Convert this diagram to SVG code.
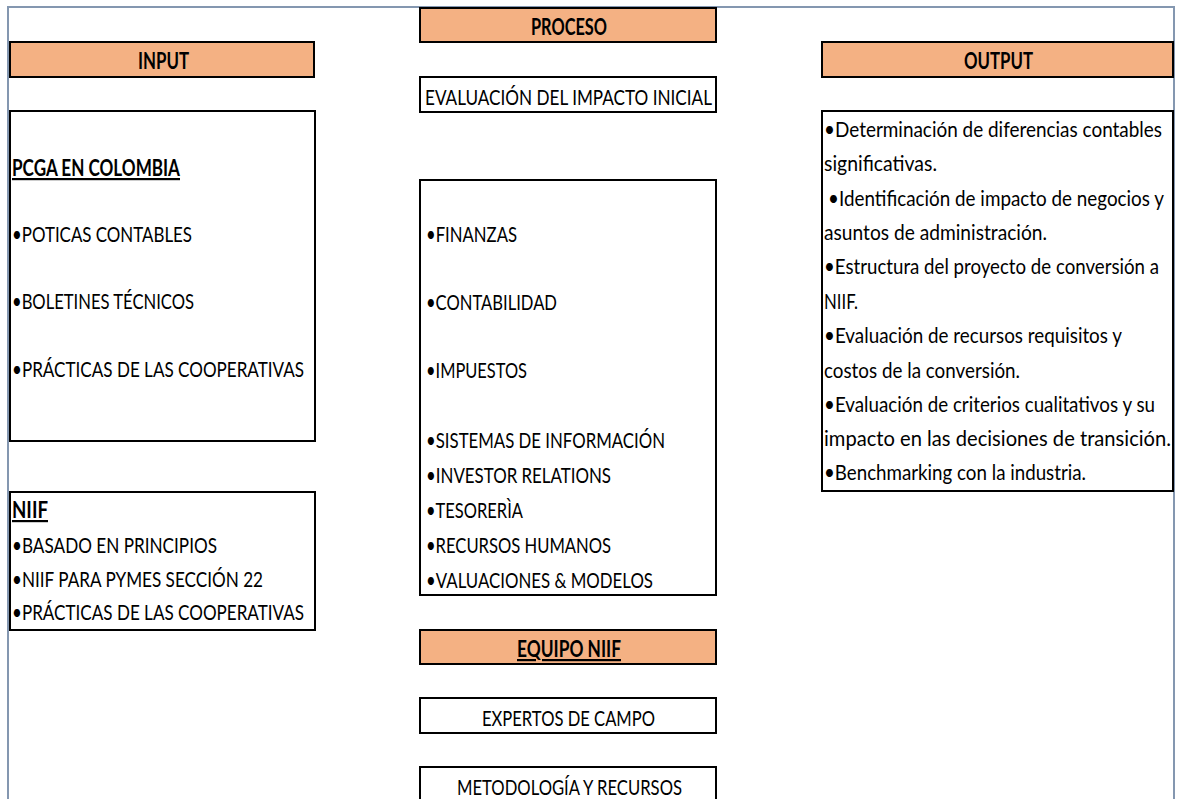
<svg xmlns="http://www.w3.org/2000/svg" width="1179" height="799" viewBox="0 0 1179 799">
<style>
.frame{fill:none;stroke:#8497B0;stroke-width:2}
.bar{fill:#F4B183;stroke:#000;stroke-width:2}
.box{fill:#fff;stroke:#000;stroke-width:2}
.t{font-family:"Lato","Liberation Sans",sans-serif;font-size:20.5px;fill:#000}
.h{font-family:"Lato","Liberation Sans",sans-serif;font-size:22px;font-weight:bold;fill:#000}
.u{text-decoration:underline}
</style>
<rect width="1179" height="799" fill="#fff"/>
<rect class="frame" x="8" y="7" width="1166" height="810"/>
<g id="connectors"/>
<g id="input-header">
<rect class="bar" x="10" y="42" width="304" height="35"/>
<text class="h" x="138" y="69" textLength="51" lengthAdjust="spacingAndGlyphs">INPUT</text>
</g>
<g id="proceso-header">
<rect class="bar" x="420" y="8" width="296" height="34"/>
<text class="h" x="531" y="35" textLength="76" lengthAdjust="spacingAndGlyphs">PROCESO</text>
</g>
<g id="output-header">
<rect class="bar" x="822" y="42" width="351" height="35"/>
<text class="h" x="964" y="69" textLength="69" lengthAdjust="spacingAndGlyphs">OUTPUT</text>
</g>
<g id="evaluacion">
<rect class="box" x="420" y="77" width="296" height="35"/>
<text class="t" x="425" y="105" font-size="21.5" textLength="287" lengthAdjust="spacingAndGlyphs">EVALUACIÓN DEL IMPACTO INICIAL</text>
</g>
<g id="pcga">
<rect class="box" x="10" y="111" width="305" height="330"/>
<text class="h u" x="12" y="176" font-size="20.5" textLength="168" lengthAdjust="spacingAndGlyphs">PCGA EN COLOMBIA</text>
<text class="t" x="12" y="242" textLength="180" lengthAdjust="spacingAndGlyphs">•POTICAS CONTABLES</text>
<text class="t" x="12" y="309" textLength="182" lengthAdjust="spacingAndGlyphs">•BOLETINES TÉCNICOS</text>
<text class="t" x="12" y="377" textLength="292" lengthAdjust="spacingAndGlyphs">•PRÁCTICAS DE LAS COOPERATIVAS</text>
</g>
<g id="niif">
<rect class="box" x="10" y="492" width="305" height="138"/>
<text class="h u" x="12" y="518" font-size="20.5" textLength="36" lengthAdjust="spacingAndGlyphs">NIIF</text>
<text class="t" x="12" y="553" textLength="205" lengthAdjust="spacingAndGlyphs">•BASADO EN PRINCIPIOS</text>
<text class="t" x="12" y="587" textLength="251" lengthAdjust="spacingAndGlyphs">•NIIF PARA PYMES SECCIÓN 22</text>
<text class="t" x="12" y="620" textLength="292" lengthAdjust="spacingAndGlyphs">•PRÁCTICAS DE LAS COOPERATIVAS</text>
</g>
<g id="areas">
<rect class="box" x="420" y="180" width="296" height="415"/>
<text class="t" x="426" y="242" textLength="91" lengthAdjust="spacingAndGlyphs">•FINANZAS</text>
<text class="t" x="426" y="310" textLength="131" lengthAdjust="spacingAndGlyphs">•CONTABILIDAD</text>
<text class="t" x="426" y="378" textLength="101" lengthAdjust="spacingAndGlyphs">•IMPUESTOS</text>
<text class="t" x="426" y="448" textLength="239" lengthAdjust="spacingAndGlyphs">•SISTEMAS DE INFORMACIÓN</text>
<text class="t" x="426" y="483" textLength="185" lengthAdjust="spacingAndGlyphs">•INVESTOR RELATIONS</text>
<text class="t" x="426" y="518" textLength="97" lengthAdjust="spacingAndGlyphs">•TESORERÌA</text>
<text class="t" x="426" y="553" textLength="185" lengthAdjust="spacingAndGlyphs">•RECURSOS HUMANOS</text>
<text class="t" x="426" y="588" textLength="227" lengthAdjust="spacingAndGlyphs">•VALUACIONES &amp; MODELOS</text>
</g>
<g id="output">
<rect class="box" x="822" y="111" width="351" height="380"/>
<text class="t" x="824" y="137" textLength="338" lengthAdjust="spacingAndGlyphs">•Determinación de diferencias contables</text>
<text class="t" x="824" y="171" textLength="113" lengthAdjust="spacingAndGlyphs">significativas.</text>
<text class="t" x="828" y="206" textLength="336" lengthAdjust="spacingAndGlyphs">•Identificación de impacto de negocios y</text>
<text class="t" x="824" y="240" textLength="223" lengthAdjust="spacingAndGlyphs">asuntos de administración.</text>
<text class="t" x="824" y="274" textLength="335" lengthAdjust="spacingAndGlyphs">•Estructura del proyecto de conversión a</text>
<text class="t" x="824" y="309" textLength="34" lengthAdjust="spacingAndGlyphs">NIIF.</text>
<text class="t" x="824" y="343" textLength="298" lengthAdjust="spacingAndGlyphs">•Evaluación de recursos requisitos y</text>
<text class="t" x="824" y="378" textLength="196" lengthAdjust="spacingAndGlyphs">costos de la conversión.</text>
<text class="t" x="824" y="412" textLength="331" lengthAdjust="spacingAndGlyphs">•Evaluación de criterios cualitativos y su</text>
<text class="t" x="824" y="446" textLength="347" lengthAdjust="spacingAndGlyphs">impacto en las decisiones de transición.</text>
<text class="t" x="824" y="480" textLength="262" lengthAdjust="spacingAndGlyphs">•Benchmarking con la industria.</text>
</g>
<g id="equipo-niif">
<rect class="bar" x="420" y="630" width="296" height="34"/>
<text class="h u" x="517" y="657" font-size="20.5" textLength="104" lengthAdjust="spacingAndGlyphs">EQUIPO NIIF</text>
</g>
<g id="expertos">
<rect class="box" x="420" y="698" width="296" height="35"/>
<text class="t" x="482" y="726" font-size="21.5" textLength="173" lengthAdjust="spacingAndGlyphs">EXPERTOS DE CAMPO</text>
</g>
<g id="metodologia">
<rect class="box" x="420" y="767" width="296" height="45"/>
<text class="t" x="457" y="795" font-size="21.5" textLength="225" lengthAdjust="spacingAndGlyphs">METODOLOGÍA Y RECURSOS</text>
</g>
</svg>
